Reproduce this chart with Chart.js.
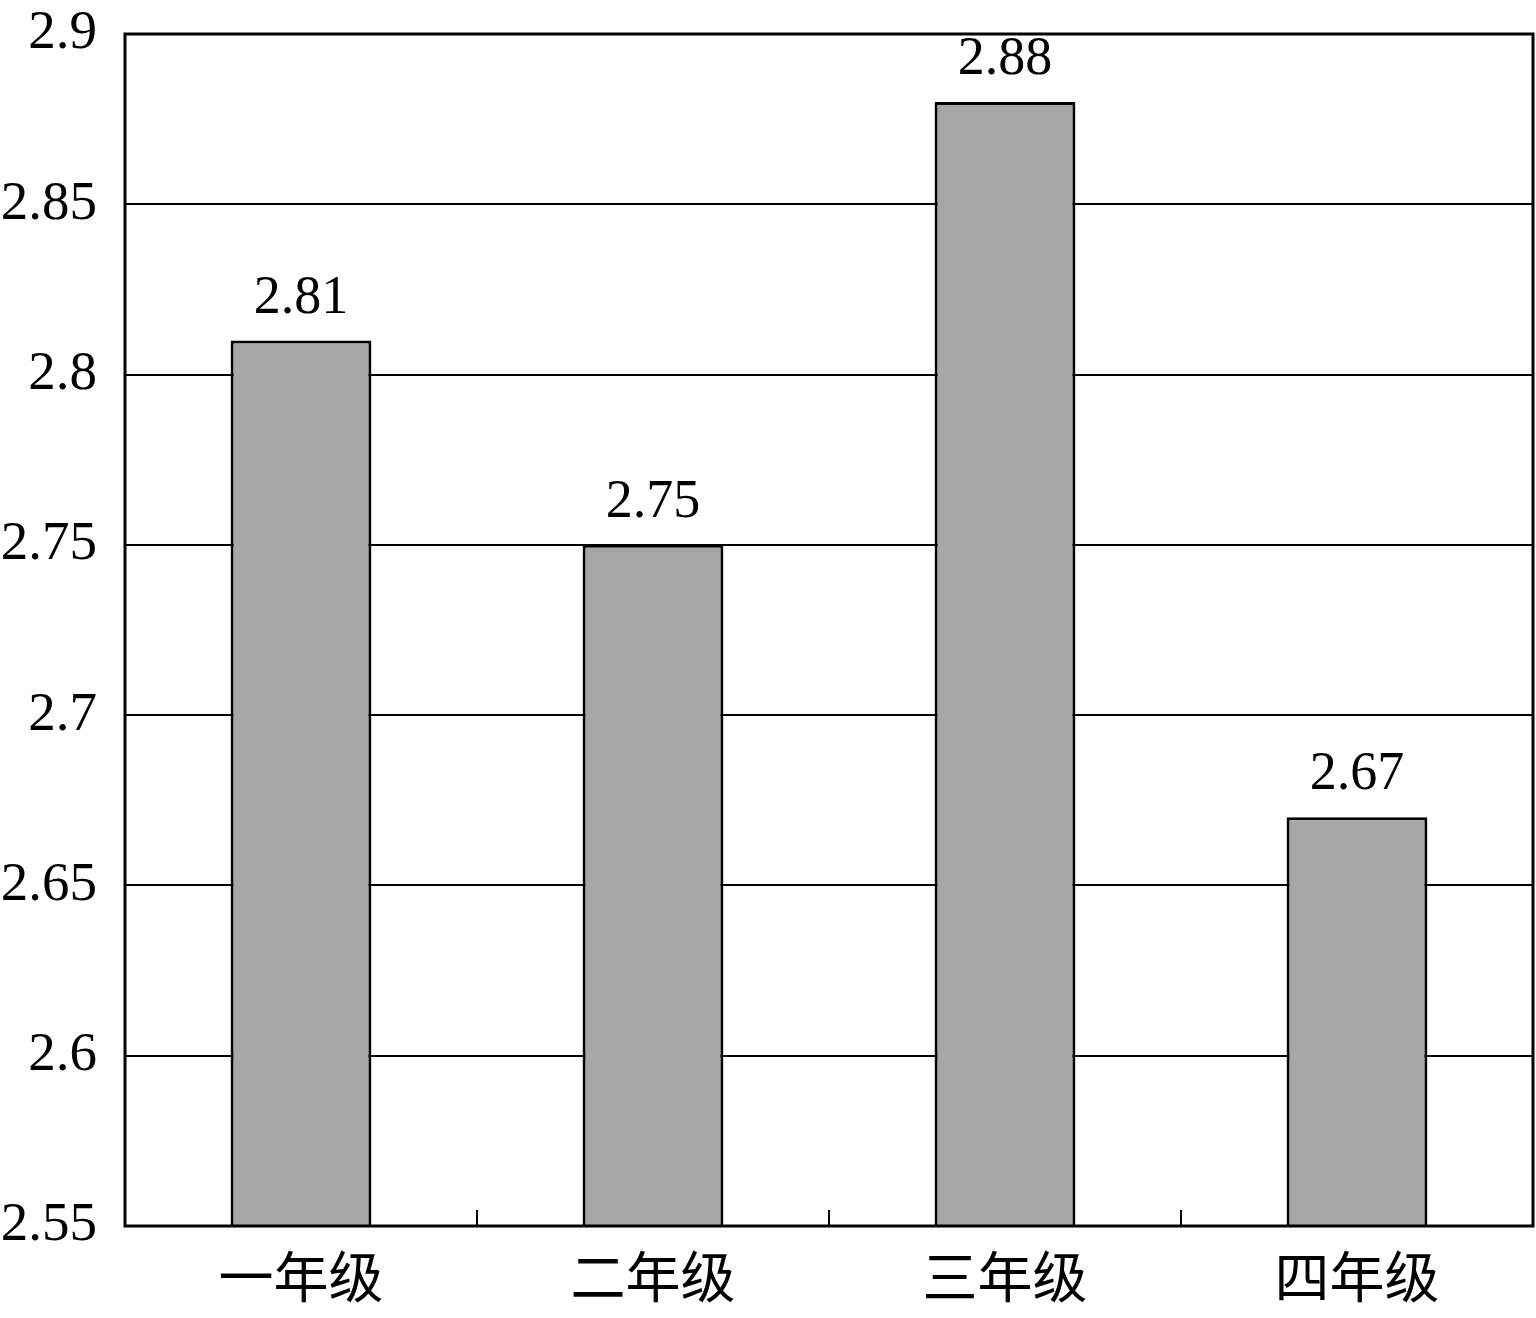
<!DOCTYPE html>
<html>
<head>
<meta charset="utf-8">
<script src="https://cdn.jsdelivr.net/npm/chart.js@4"></script>
<style>
  html, body { margin: 0; padding: 0; background: #fff; }
  #wrap { width: 1536px; height: 1318px; }
</style>
</head>
<body>
<div id="wrap"><canvas id="chart" width="1536" height="1318"></canvas></div>
<script>
const grades = ['一年级', '二年级', '三年级', '四年级'];
const scores = [2.81, 2.75, 2.88, 2.67];
const yTicks = [2.55, 2.6, 2.65, 2.7, 2.75, 2.8, 2.85, 2.9];

const serif = '"Liberation Serif", "Times New Roman", "Noto Sans CJK SC", serif';

// value labels above each bar + frame + inward category ticks
const extras = {
  id: 'extras',
  afterDatasetsDraw(chart) {
    const { ctx, chartArea: a } = chart;
    const meta = chart.getDatasetMeta(0);
    ctx.save();
    ctx.fillStyle = '#000';
    ctx.font = '54px ' + serif;
    ctx.textAlign = 'center';
    ctx.textBaseline = 'alphabetic';
    meta.data.forEach((bar, i) => {
      ctx.fillText(scores[i].toFixed(2), bar.x, bar.y - 28);
    });
    // frame
    ctx.strokeStyle = '#000';
    ctx.lineWidth = 3;
    ctx.strokeRect(a.left, a.top, a.right - a.left, a.bottom - a.top);
    // category separator ticks
    const x = chart.scales.x;
    const step = (a.right - a.left) / grades.length;
    ctx.lineWidth = 2;
    for (let i = 0; i < grades.length - 1; i++) {
      const px = Math.round(x.getPixelForValue(i) + step / 2);
      ctx.beginPath();
      ctx.moveTo(px, a.bottom);
      ctx.lineTo(px, a.bottom - 16);
      ctx.stroke();
    }
    ctx.restore();
  }
};

new Chart(document.getElementById('chart').getContext('2d'), {
  type: 'bar',
  data: {
    labels: grades,
    datasets: [{
      data: scores,
      backgroundColor: '#a6a6a6',
      borderColor: '#000',
      borderWidth: 3,
      borderSkipped: 'bottom',
      barPercentage: 0.4,
      categoryPercentage: 1
    }]
  },
  options: {
    responsive: false,
    animation: false,
    layout: { padding: { top: 34, right: 3, left: 0, bottom: 0 } },
    plugins: { legend: { display: false }, tooltip: { enabled: false } },
    scales: {
      x: {
        grid: { display: false },
        border: { display: false },
        ticks: { color: '#000', font: { size: 55, family: serif }, padding: 16 },
        afterFit(s) { s.height = 92; s.paddingLeft = 0; s.paddingRight = 0; }
      },
      y: {
        min: 2.55,
        max: 2.9,
        afterBuildTicks(s) { s.ticks = yTicks.map(v => ({ value: v })); },
        grid: { color: '#000', lineWidth: 2, drawTicks: false },
        border: { display: false },
        ticks: {
          color: '#000',
          padding: 28,
          font: { size: 55, family: serif },
          callback: v => String(+v.toFixed(2))
        },
        afterFit(s) { s.width = 125; s.paddingTop = 0; s.paddingBottom = 0; }
      }
    }
  },
  plugins: [extras]
});
</script>
</body>
</html>
